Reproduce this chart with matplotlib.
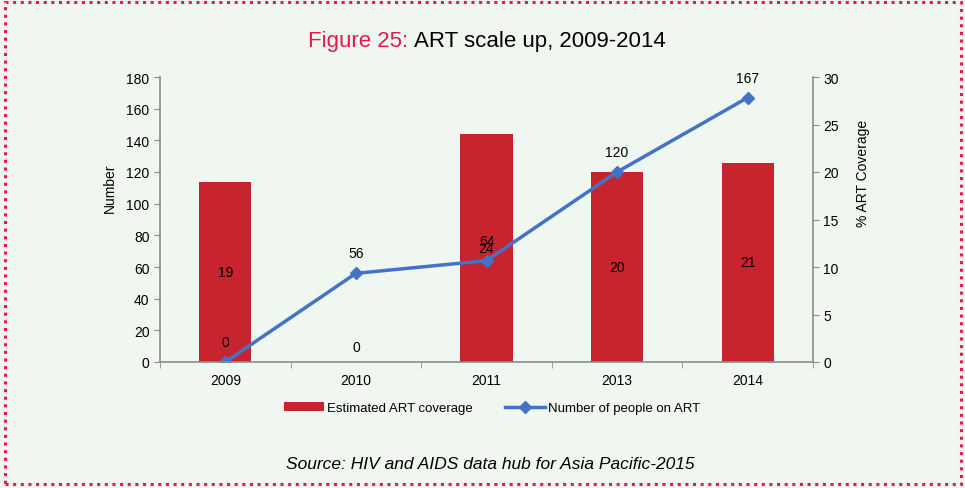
import matplotlib
matplotlib.use("Agg")
import matplotlib.pyplot as plt
from matplotlib import font_manager
from matplotlib.patches import Rectangle
import numpy as np

years = ["2009", "2010", "2011", "2013", "2014"]
coverage_pct = [19, 0, 24, 20, 21]
people_on_art = [0, 56, 64, 120, 167]
left_ticks = [0, 20, 40, 60, 80, 100, 120, 140, 160, 180]
right_ticks = [0, 5, 10, 15, 20, 25, 30]

names = {f.name for f in font_manager.fontManager.ttflist}
narrow = "Liberation Sans Narrow" if "Liberation Sans Narrow" in names else "Liberation Sans"
plt.rcParams['font.family'] = [narrow, 'DejaVu Sans']

BG = "#f0f7f0"
BAR = "#c8242e"
LINE = "#4472c4"
GRAY = "#8c8c8c"
PINK = "#e8194a"

fig = plt.figure(figsize=(9.65, 4.89), dpi=100, facecolor=BG)
ax = fig.add_axes([160/965, 1-363/489, (813-160)/965, (363-78)/489])
ax.set_facecolor(BG)
ax2 = ax.twinx()

x = np.arange(len(years))
# bars on right (percent) axis
ax2.bar(x, coverage_pct, width=0.4, color=BAR, zorder=1, label="Estimated ART coverage")
ax2.set_ylim(0, 30)
ax2.set_yticks(right_ticks)
for xi, v in zip(x, coverage_pct):
    if v == 0:
        ax2.annotate(str(v), (xi, 0), xytext=(0, 15), textcoords="offset pixels",
                     ha="center", va="center", fontsize=10)
    else:
        ax2.text(xi, v / 2, str(v), ha="center", va="center", fontsize=10)

# line on left axis, drawn above bars
ax.set_zorder(ax2.get_zorder() + 1)
ax.patch.set_visible(False)
ax2.patch.set_visible(True)
ax2.patch.set_facecolor(BG)
ax.plot(x, people_on_art, color=LINE, lw=2.5, marker="D", ms=6, label="Number of people on ART")
for xi, v in zip(x, people_on_art):
    ax.annotate(str(v), (xi, v), xytext=(0, 20), textcoords="offset pixels",
                ha="center", va="center", fontsize=10)
ax.set_ylim(0, 180)
ax.set_yticks(left_ticks)
ax.set_xlim(-0.5, len(years) - 0.5)
ax.set_xticks(x)
ax.set_xticklabels(years)
ax.set_xticks(np.arange(len(years) + 1) - 0.5, minor=True)
ax.tick_params(axis="x", which="major", length=0, labelsize=10, pad=8)
ax.tick_params(axis="x", which="minor", length=4, color=GRAY, direction="out")
ax.tick_params(axis="y", length=4, color=GRAY, labelsize=10)
ax2.tick_params(axis="y", length=4, color=GRAY, labelsize=10)

for a in (ax, ax2):
    a.spines["top"].set_visible(False)
    for s in ("left", "right", "bottom"):
        a.spines[s].set_color(GRAY)
        a.spines[s].set_linewidth(1.2)
ax.spines["right"].set_visible(False)
ax2.spines["left"].set_visible(False)
ax2.spines["bottom"].set_visible(False)

fig.text(110/965, 1-188/489, "Number", rotation=90, ha="center", va="center", fontsize=10)
fig.text(863/965, 1-173/489, "% ART Coverage", rotation=90, ha="center", va="center", fontsize=10)

# title
cy = 1-41/489
t1 = fig.text(0.5, cy, "Figure 25: ", color=PINK, fontsize=16, ha="right", va="center")
t2 = fig.text(0.5, cy, "ART scale up, 2009-2014", color="black", fontsize=16, ha="left", va="center")
fig.canvas.draw()
r = fig.canvas.get_renderer()
w1 = t1.get_window_extent(r).width
w2 = t2.get_window_extent(r).width
shift = (w1 - w2) / 2 / fig.bbox.width
cx = 487/965
t1.set_x(cx + shift)
t2.set_x(cx + shift)

# legend
h1, l1 = ax2.get_legend_handles_labels()
h2, l2 = ax.get_legend_handles_labels()
leg = fig.legend(h1 + h2, l1 + l2, loc="center", bbox_to_anchor=(492/965, 1-409/489),
                 ncol=2, frameon=False, fontsize=9.5, handlelength=3.0,
                 handletextpad=0.2, columnspacing=2.5)

fig.text(490/965, 1-465/489, "Source: HIV and AIDS data hub for Asia Pacific-2015",
         style="italic", fontsize=12.5, ha="center", va="center", family=["Liberation Sans", "DejaVu Sans"])

# dotted border
fig.patches.append(Rectangle((5/965, 4/489), 956/965, 482/489, transform=fig.transFigure,
                             fill=False, edgecolor=PINK, lw=2.2, linestyle=(0, (1, 1.5))))

fig.savefig("out.png", dpi=100, facecolor=BG)
